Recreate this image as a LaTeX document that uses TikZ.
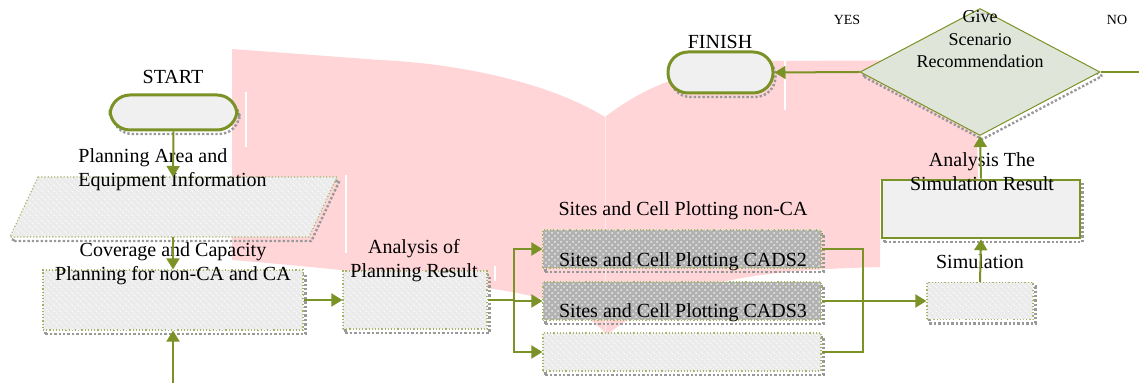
\documentclass[tikz,border=0pt]{standalone}
\usepackage{fontspec}
\setmainfont{Liberation Serif}
\usetikzlibrary{arrows.meta,patterns,shapes.geometric}
\definecolor{leaf}{RGB}{122,146,38}
\definecolor{blush}{RGB}{255,213,216}
\definecolor{paper}{RGB}{240,240,240}
\definecolor{sage}{RGB}{224,229,218}
\tikzset{
  flow/.style={draw=leaf, line width=1pt, -{Triangle[length=5.5pt,width=6.5pt]}},
  wire/.style={draw=leaf, line width=1pt},
  dropdots/.style={preaction={draw=black!40, densely dotted, line width=1.2pt, transform canvas={shift={(1.2pt,-2pt)}}}},
  terminal/.style={draw=leaf, line width=1.5pt, fill=paper, rounded corners=10pt, dropdots, inner sep=0pt},
  hatchbox/.style={draw=leaf!70, densely dotted, line width=0.6pt, fill=black!8, postaction={pattern=north west lines, pattern color=white}, dropdots, inner sep=0pt},
  checkbox/.style={draw=leaf!70, densely dotted, line width=0.6pt, fill=black!30, postaction={pattern=crosshatch dots, pattern color=black!8}, dropdots, inner sep=0pt},
  plainbox/.style={draw=leaf, line width=1.3pt, fill=paper, dropdots, inner sep=0pt},
  decision/.style={diamond, draw=leaf, line width=0.5pt, fill=sage, dropdots, inner sep=0pt},
  lbl/.style={font=\fontsize{10}{12}\selectfont, align=center, inner sep=0pt},
  small/.style={font=\fontsize{7}{8}\selectfont, inner sep=0pt}
}
\begin{document}
\begin{tikzpicture}[x=0.5pt,y=-0.5pt]
  \useasboundingbox (0,0) rectangle (1139,383);

  %%%%% BACKDROP %%%%%
  \fill[blush] (232,49) -- (380,60) .. controls (450,63) and (545,80) .. (605,117)
    .. controls (630,98) and (650,88) .. (672,80) -- (773,61) -- (975,60) -- (978,180)
    -- (880,180) -- (880,267) .. controls (780,270) and (680,275) .. (607,335)
    .. controls (585,310) and (550,298) .. (500,290) .. controls (420,278) and (330,268) .. (232,260) -- cycle;
  \draw[white, line width=1pt] (246,92) -- (246,147);
  \draw[white, line width=1pt] (346,175) -- (346,253);
  \draw[white, line width=1pt] (495,266) -- (495,281);
  \draw[white, line width=1pt] (785,58) -- (785,110);
  \draw[white, opacity=0.5, line width=0.5pt] (605,117) -- (605,333);

  %%%%% LEFT COLUMN %%%%%
  \node[terminal, minimum width=63.5pt, minimum height=17.5pt] (start) at (173.5,112.5) {};
  \node[lbl] (start-txt) at (173,77) {START};

  \path[hatchbox] (38,177) -- (337,177) -- (309,237) -- (10,237) -- cycle;
  \coordinate (info-in) at (173,177);
  \coordinate (info-out) at (173,237);
  \node[lbl, align=left, anchor=west] (info-txt) at (78,170) {Planning Area and\\Equipment Information};

  \node[hatchbox, minimum width=130pt, minimum height=30pt] (cover) at (173,300) {};
  \node[lbl] (cover-txt) at (173,264) {Coverage and Capacity\\Planning for non-CA and CA};
  \coordinate (feed) at (173,383);

  \node[hatchbox, minimum width=72pt, minimum height=29pt] (plan) at (415,300) {};
  \node[lbl] (plan-txt) at (414,261) {Analysis of\\Planning Result};

  %%%%% PLOTTING %%%%%
  \node[checkbox, minimum width=139pt, minimum height=19pt] (plotA) at (682,249) {};
  \node[checkbox, minimum width=139pt, minimum height=19pt] (plotB) at (682,301) {};
  \node[hatchbox, minimum width=139pt, minimum height=19pt] (plotC) at (682,352) {};
  \node[lbl] (plot-txt) at (683,211) {Sites and Cell Plotting non-CA};
  \node[lbl] (plotA-txt) at (683,262) {Sites and Cell Plotting CADS2};
  \node[lbl] (plotB-txt) at (683,313) {Sites and Cell Plotting CADS3};
  \coordinate (fork) at (514,300);
  \coordinate (merge) at (863,301);

  %%%%% RIGHT COLUMN %%%%%
  \node[hatchbox, minimum width=53pt, minimum height=18.5pt] (sim) at (980,301) {};
  \node[lbl] (sim-txt) at (980,262) {Simulation};

  \node[plainbox, minimum width=99pt, minimum height=29pt] (result) at (981,209) {};
  \node[lbl] (result-txt) at (982,171.5) {Analysis The\\Simulation Result};

  \node[decision, minimum width=120pt, minimum height=63.5pt] (decide) at (980,72) {};
  \node[lbl, font=\fontsize{9}{11.25}\selectfont] (decide-txt) at (980,39.5) {Give\\Scenario\\Recommendation};
  \node[small] (yes) at (847,20) {YES};
  \node[small] (no) at (1117,20) {NO};
  \coordinate (exit) at (1139,72);

  \node[terminal, minimum width=52.5pt, minimum height=20.5pt] (finish) at (720.5,72.5) {};
  \node[lbl] (finish-txt) at (720,42) {FINISH};

  %%%%% CONNECTORS %%%%%
  \draw[flow] (start.south) -- (info-in);
  \draw[flow] (info-out) -- (cover.north);
  \draw[flow] (feed) -- (cover.south);
  \draw[flow] (cover.east) -- (plan.west);
  \draw[wire] (plan.east) -- (fork);
  \draw[flow] (fork) |- (plotA.west);
  \draw[flow] (fork) |- (plotB.west);
  \draw[flow] (fork) |- (plotC.west);
  \draw[wire] (plotA.east) -| (merge);
  \draw[wire] (plotC.east) -| (merge);
  \draw[flow] (plotB.east) -- (sim.west);
  \draw[flow] (sim.north) -- (result.south);
  \draw[flow] (result.north) -- (decide.south);
  \draw[flow] (decide.west) -- (finish.east);
  \draw[wire] (decide.east) -- (exit);
\end{tikzpicture}
\end{document}
